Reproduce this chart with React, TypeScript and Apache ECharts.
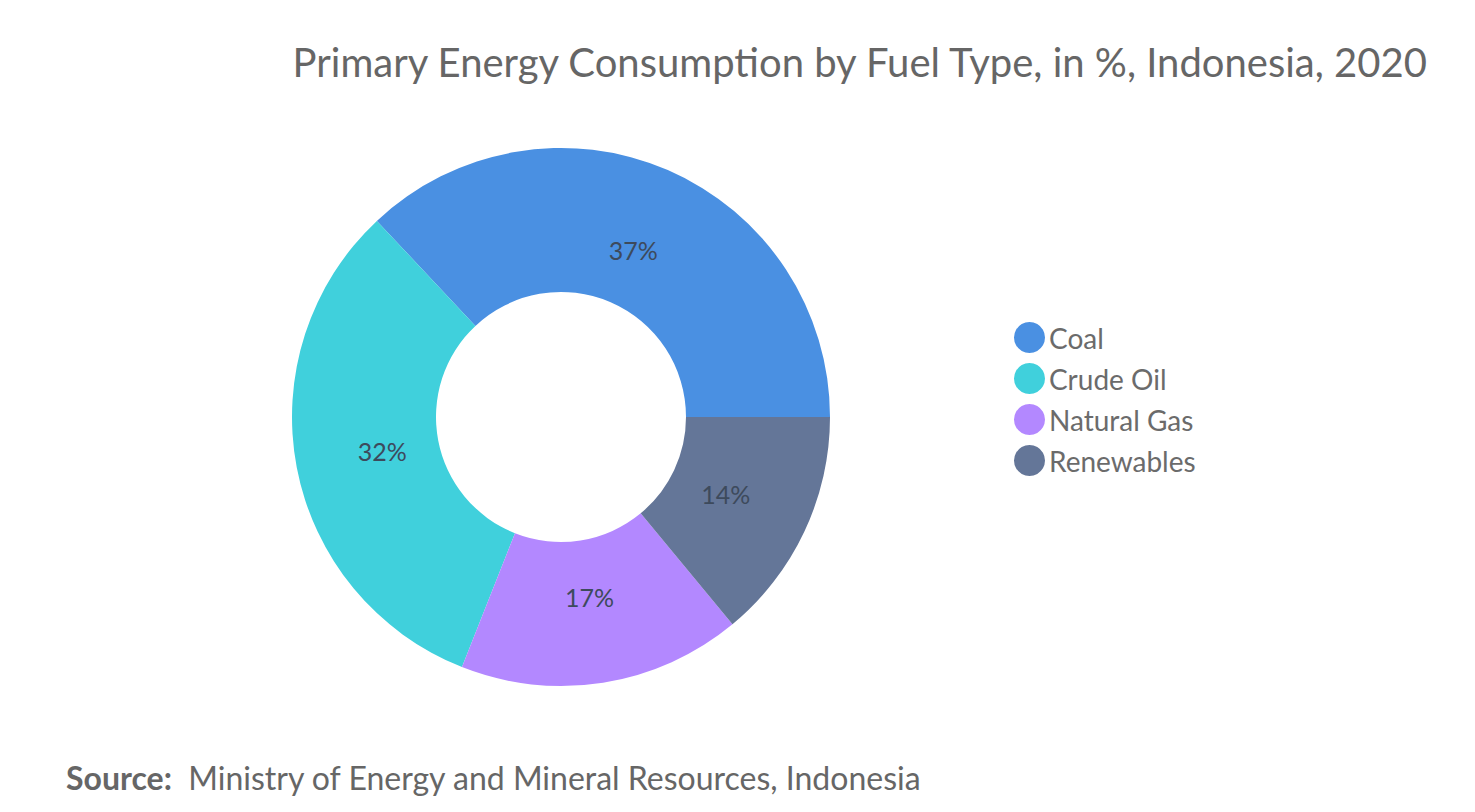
import React, { useEffect, useRef } from "react";
import * as echarts from "echarts";

const categories = ["Coal", "Crude Oil", "Natural Gas", "Renewables"];
const values = [37, 32, 17, 14];
const colors = ["#4a90e2", "#40d0dc", "#b388ff", "#647698"];

export default function App() {
  const ref = useRef<HTMLDivElement>(null);
  useEffect(() => {
    const chart = echarts.init(ref.current!, null, { renderer: "svg" });
    const data = categories.map((c, i) => ({ name: c, value: values[i] }));
    chart.setOption({
      animation: false,
      color: colors,
      title: {
        text: "Primary Energy Consumption by Fuel Type, in %, Indonesia, 2020",
        right: 39,
        top: 37,
        textStyle: { fontFamily: "Lato", fontWeight: "normal", fontSize: 40, color: "#666666" },
      },
      legend: {
        orient: "vertical",
        left: 1009,
        top: 317,
        icon: "circle",
        itemWidth: 31,
        itemHeight: 31,
        itemGap: 10,
        textStyle: { fontFamily: "Lato", fontSize: 28, color: "#6b6b6b", padding: [0, 0, 0, -1] },
        data: categories,
      },
      graphic: [
        {
          type: "text",
          left: 66,
          top: 761,
          style: {
            text: "{b|Source:}  Ministry of Energy and Mineral Resources, Indonesia",
            rich: {
              b: { fontFamily: "Lato", fontWeight: "bold", fontSize: 32, fill: "#666666" },
            },
            fontFamily: "Lato",
            fontSize: 32,
            fill: "#666666",
          },
        },
      ],
      series: [
        {
          type: "pie",
          center: [561, 417],
          radius: [125, 269],
          startAngle: 0,
          clockwise: false,
          label: { show: false },
          labelLine: { show: false },
          emphasis: { disabled: true },
          data,
        },
        {
          type: "pie",
          center: [561, 417],
          radius: [125, 233],
          startAngle: 0,
          clockwise: false,
          silent: true,
          itemStyle: { color: "transparent" },
          label: {
            position: "inside",
            formatter: "{c}%",
            fontFamily: "Lato",
            fontSize: 25,
            color: "#3d4a5c",
          },
          labelLine: { show: false },
          emphasis: { disabled: true },
          data,
        },
      ],
    });
    return () => chart.dispose();
  }, []);
  return <div ref={ref} style={{ position: "fixed", left: 0, top: 0, width: 1475, height: 812, background: "#fff" }} />;
}
